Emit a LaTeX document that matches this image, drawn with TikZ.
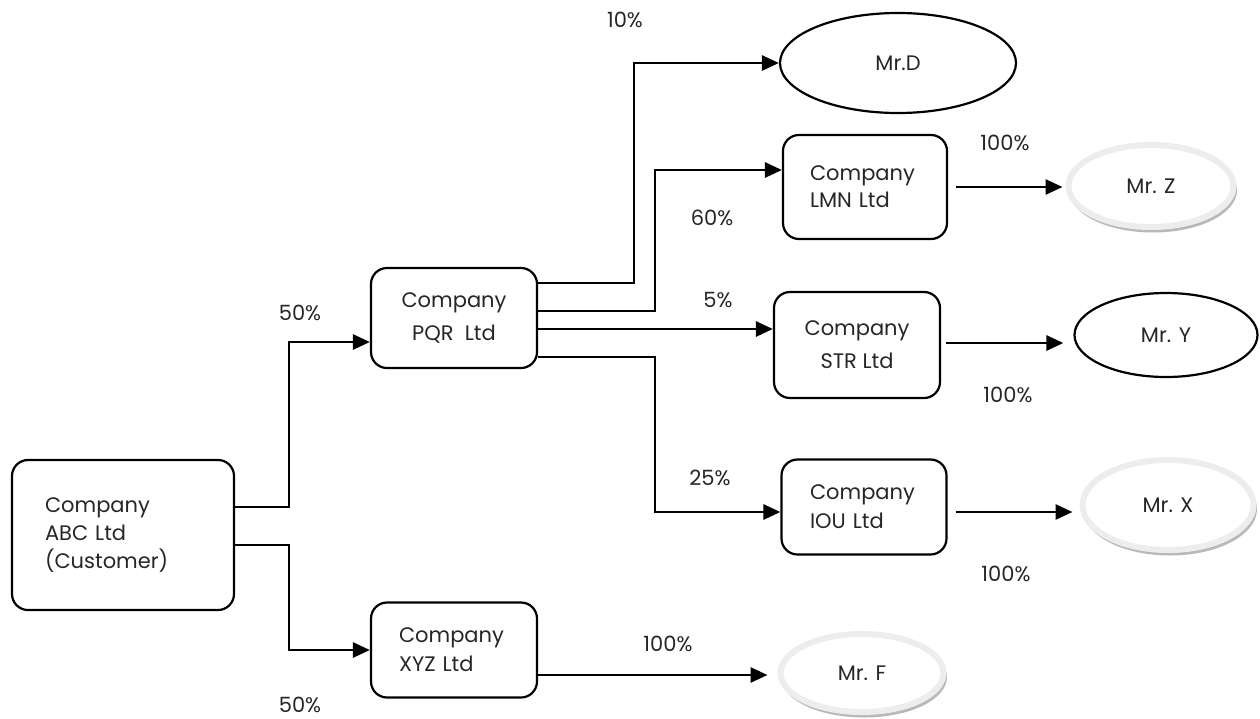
\documentclass[tikz,border=0pt]{standalone}
\usepackage{fontspec}
\setmainfont{Poppins}
\usetikzlibrary{arrows.meta,shapes.geometric,calc}
\begin{document}
\begin{tikzpicture}[x=1pt,y=-1pt,
  box/.style={draw,line width=2.2pt,rounded corners=16pt,align=left,inner sep=0pt},
  oval/.style={ellipse,draw,line width=2.2pt,inner sep=0pt},
  soval/.style={ellipse,fill=white,draw=gray!14,line width=6pt,inner sep=0pt,
    preaction={draw=gray!55,line width=3pt,transform canvas={shift={(2pt,-4pt)}}}},
  conn/.style={line width=2.8pt,-{Triangle[length=17pt,width=15pt]}},
  pct/.style={font=\fontsize{21}{24}\selectfont,inner sep=0pt},
  every node/.style={text=black!85}]
\useasboundingbox (0,0) rectangle (1260,718);
% boxes
\node[box,minimum width=222pt,minimum height=150pt,text width=156pt,font=\fontsize{21}{28}\selectfont] (abc) at (123,535) {Company\\ABC Ltd\\(Customer)};
\node[box,minimum width=166pt,minimum height=100pt,align=center,font=\fontsize{21}{33}\selectfont] (pqr) at (454,318) {Company\\PQR\ \ Ltd};
\node[box,minimum width=166pt,minimum height=95pt,text width=110pt,font=\fontsize{21}{29}\selectfont] (xyz) at (454,650) {Company\\XYZ Ltd};
\node[box,minimum width=164pt,minimum height=104pt,text width=110pt,font=\fontsize{21}{27}\selectfont] (lmn) at (865,187) {Company\\LMN Ltd};
\node[box,minimum width=166pt,minimum height=106pt,align=center,font=\fontsize{21}{33}\selectfont] (str) at (857,345) {Company\\STR Ltd};
\node[box,minimum width=165pt,minimum height=95pt,text width=108pt,font=\fontsize{21}{29}\selectfont] (iou) at (864,507) {Company\\IOU Ltd};
% people
\node[oval,minimum width=236pt,minimum height=100pt,font=\fontsize{21}{22}\selectfont] (mrD) at (898,63) {Mr.D};
\node[soval,minimum width=165pt,minimum height=82pt,font=\fontsize{21}{22}\selectfont] (mrZ) at (1151,186) {Mr. Z};
\node[oval,minimum width=183pt,minimum height=84pt,font=\fontsize{21}{22}\selectfont] (mrY) at (1166,335) {Mr. Y};
\node[soval,minimum width=171pt,minimum height=90pt,font=\fontsize{21}{22}\selectfont] (mrX) at (1168,505) {Mr. X};
\node[soval,minimum width=163pt,minimum height=78pt,font=\fontsize{21}{22}\selectfont] (mrF) at (862,673) {Mr. F};
% connectors
\draw[conn] (abc.east |- 0,507) -- (289,507) |- (pqr.west |- 0,342);
\draw[conn] (abc.east |- 0,545) -- (289,545) |- (xyz.west |- 0,650);
\draw[conn] (pqr.east |- 0,283) -- (634,283) |- (mrD.west);
\draw[conn] (pqr.east |- 0,311) -- (655,311) |- (lmn.west |- 0,170);
\draw[conn] (pqr.east |- 0,329) -- (str.west |- 0,329);
\draw[conn] (pqr.east |- 0,357) -- (655,357) |- (iou.west |- 0,512);
\draw[conn,shorten >=3pt] ([xshift=8pt]lmn.east) -- (mrZ.west |- lmn.east);
\draw[conn,shorten >=10pt] ([xshift=5pt]str.east |- 0,343) -- (mrY.west |- 0,343);
\draw[conn,shorten >=7pt] ([xshift=8pt]iou.east |- 0,512) -- (mrX.west |- 0,512);
\draw[conn,shorten >=10pt] (xyz.east |- 0,675) -- (mrF.west |- 0,675);
% labels
\node[pct] (l1) at (625,20) {10\%};
\node[pct] (l2) at (1005,143) {100\%};
\node[pct] (l3) at (712,218) {60\%};
\node[pct] (l4) at (300,313) {50\%};
\node[pct] (l5) at (718,300) {5\%};
\node[pct] (l6) at (1008,395) {100\%};
\node[pct] (l7) at (710,478) {25\%};
\node[pct] (l8) at (1006,574) {100\%};
\node[pct] (l9) at (668,644) {100\%};
\node[pct] (l10) at (300,705) {50\%};
\end{tikzpicture}
\end{document}
